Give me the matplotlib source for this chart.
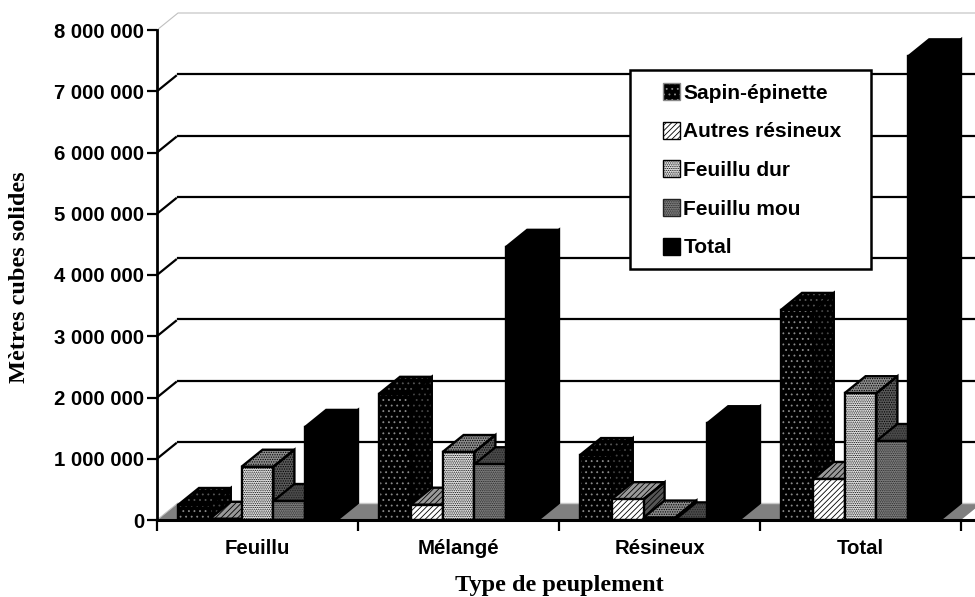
import numpy as np
import matplotlib
matplotlib.use('Agg')
import matplotlib.pyplot as plt
from matplotlib.patches import Patch, Rectangle
from matplotlib.legend_handler import HandlerPatch

plt.rcParams['hatch.linewidth'] = 0.6

categories = ['Feuillu', 'Mélangé', 'Résineux', 'Total']
series_names = ['Sapin-épinette', 'Autres résineux', 'Feuillu dur', 'Feuillu mou', 'Total']

sapin = [245000, 2060000, 1060000, 3430000]
autres = [20000, 250000, 340000, 670000]
feuillu_dur = [870000, 1110000, 40000, 2070000]
feuillu_mou = [310000, 910000, 10000, 1290000]
total = [1520000, 4460000, 1580000, 7570000]
series_values = [sapin, autres, feuillu_dur, feuillu_mou, total]

y_ticks = [0, 1000000, 2000000, 3000000, 4000000, 5000000, 6000000, 7000000, 8000000]
y_labels = ['0', '1 000 000', '2 000 000', '3 000 000', '4 000 000',
            '5 000 000', '6 000 000', '7 000 000', '8 000 000']

# (front, top, side) as face colour, hatch colour, hatch
styles = [
    (('#000000', '#8a8a8a', '...'), ('#000000', '#555555', '...'), ('#000000', '#444444', '...')),
    (('#ffffff', '#000000', '//////'), ('#999999', '#000000', '//////'), ('#555555', '#000000', '//////')),
    (('#eeeeee', '#000000', '.........'), ('#8c8c8c', '#000000', '.......'), ('#5a5a5a', '#000000', '.......')),
    (('#808080', '#222222', '.........'), ('#4a4a4a', '#222222', '.......'), ('#4a4a4a', '#222222', '.......')),
    (('#000000', '#000000', ''), ('#000000', '#000000', ''), ('#000000', '#000000', '')),
]

W, H = 975, 597
left, bottom_px = 157, 520
cat_px = 201.0
val_px = 61.25 / 1000000

fig = plt.figure(figsize=(9.75, 5.97), dpi=100)
ax = fig.add_axes([left / W, (H - bottom_px) / H, (W - left) / W, bottom_px / H])
ax.set_xlim(0, (W - left) / cat_px)
ax.set_ylim(0, bottom_px / val_px)

# depth of the fake 3D box, in data units
dx = 21 / cat_px
dy = 17 / val_px
gap = 21 / cat_px
bar_w = (1 - 2 * gap) / 5


def face(xs, ys, style, z):
    fc, hc, hatch = style
    ax.fill(xs, ys, facecolor=fc, edgecolor=hc, hatch=hatch, lw=0, zorder=z)
    ax.fill(xs, ys, fill=False, edgecolor='black', lw=1.7, zorder=z + 0.1, joinstyle='miter')


def right_square(legend, orig_handle, xdescent, ydescent, width, height, fontsize):
    # the small key sits at the right end of the handle slot, next to the label
    size = 17 * 0.72
    return Rectangle((width - xdescent - size, height / 2 - ydescent - size / 2), size, size)


# floor
ax.fill([0, 4, 4 + dx, dx], [0, 0, dy, dy], facecolor='#808080', edgecolor='none', zorder=1)
ax.plot([dx, 4 + dx], [dy, dy], color='#c8c8c8', lw=1, zorder=1.1)

# back wall and side wall
ax.plot([0, dx, 4 + dx], [8000000, 8000000 + dy, 8000000 + dy], color='#c0c0c0', lw=0.8, zorder=1)
ax.plot([0, dx], [0, dy], color='#c0c0c0', lw=0.8, zorder=1)
for v in y_ticks[1:-1]:
    ax.plot([dx, 4 + dx], [v + dy, v + dy], color='black', lw=1.6, zorder=2)
    ax.plot([0, dx * 0.9], [v, v + dy * 0.9], color='black', lw=1.6, zorder=2)

# bars, left to right so each one covers the side of the one before
z = 3
for i in range(len(categories)):
    for j, values in enumerate(series_values):
        v = values[i]
        x0 = i + gap + j * bar_w
        x1 = x0 + bar_w
        front, top, side = styles[j]
        face([x1, x1 + dx, x1 + dx, x1], [0, dy, v + dy, v], side, z)
        face([x0, x1, x1 + dx, x0 + dx], [v, v, v + dy, v + dy], top, z)
        face([x0, x1, x1, x0], [0, 0, v, v], front, z + 0.2)
        z += 1

for name in ['top', 'right']:
    ax.spines[name].set_visible(False)
ax.spines['left'].set_bounds(0, 8000000)
ax.spines['left'].set_linewidth(2)
ax.spines['bottom'].set_linewidth(2.2)
ax.spines['left'].set_zorder(100)
ax.spines['bottom'].set_zorder(100)

ax.set_yticks(y_ticks)
ax.set_yticklabels(y_labels, family='Liberation Sans', fontweight='bold', fontsize=14.7)
ax.tick_params(axis='y', length=7, width=1.6, pad=2)

ax.set_xticks(range(5))
ax.set_xticklabels([])
ax.set_xticks(np.arange(4) + 0.5, minor=True)
ax.set_xticklabels(categories, minor=True, family='Liberation Sans', fontweight='bold', fontsize=14.7)
ax.tick_params(axis='x', which='major', length=8, width=1.6)
ax.tick_params(axis='x', which='minor', length=0, pad=14)

fig.text(559 / W, 1 - 585 / H, 'Type de peuplement', family='Liberation Serif', fontweight='bold',
         fontsize=17.5, ha='center', va='center')
fig.text(20 / W, 1 - 277 / H, 'Mètres cubes solides', family='Liberation Serif', fontweight='bold',
         fontsize=17.5, rotation=90, ha='center', va='center')

handles = [Patch(facecolor=s[0][0], edgecolor=s[0][1] if s[0][2] else 'black', hatch=s[0][2]) for s in styles]
leg = ax.legend(handles, series_names, loc='upper left',
                bbox_to_anchor=(630 / W, 1 - 268 / H, 241 / W, 198 / H), mode='expand',
                bbox_transform=fig.transFigure, fancybox=False, framealpha=1, edgecolor='black',
                handler_map={Patch: HandlerPatch(patch_func=right_square)},
                handlelength=1.83, handleheight=1, handletextpad=0.15, labelspacing=0.875,
                borderpad=0.58, borderaxespad=0,
                prop={'family': 'Liberation Sans', 'weight': 'bold', 'size': 15})
leg.get_frame().set_linewidth(1.8)
leg.set_zorder(200)

fig.savefig('out.png', dpi=100)
